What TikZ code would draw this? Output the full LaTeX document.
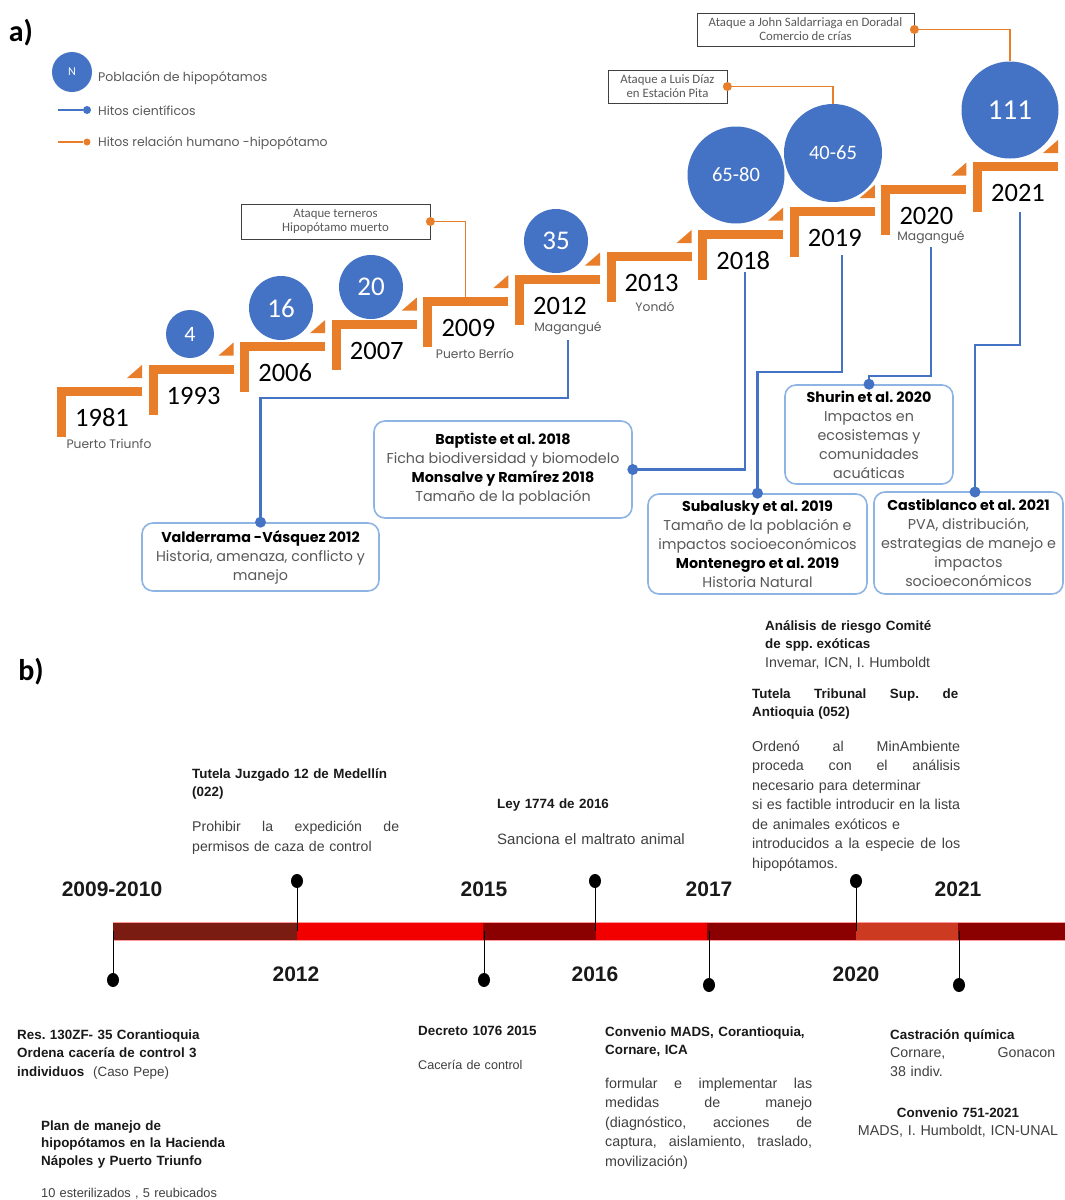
\documentclass[tikz,border=0pt]{standalone}
\usepackage{fontspec}
\setmainfont{Liberation Sans}
\newfontfamily\calfont{Carlito}
\newfontfamily\geofont{Poppins}
\usetikzlibrary{calc,shapes.geometric}

\definecolor{stepor}{HTML}{E87D2A}
\definecolor{popblue}{HTML}{4472C4}
\definecolor{boxblue}{HTML}{8EB4E3}
\definecolor{txtgray}{HTML}{595959}
\definecolor{segA}{HTML}{7B1C12}
\definecolor{segB}{HTML}{F20000}
\definecolor{segC}{HTML}{8B0000}
\definecolor{segD}{HTML}{CC3A22}
\definecolor{bodygray}{HTML}{404040}

% a justified line: the words are spread over the given width
\newcommand{\jl}[2]{\makebox[#1][s]{\spaceskip=0.28em plus 1fil\relax #2}}
\newcommand{\hd}[1]{{\bfseries\color{black}#1}}

\begin{document}
\frenchspacing
\begin{tikzpicture}[x=1pt,y=-1pt,
  yearlbl/.style={font=\calfont\fontsize{26.5}{26.5}\selectfont, text=black, inner sep=0},
  sublbl/.style={font=\geofont\fontsize{12.3}{12.3}\selectfont, text=txtgray, inner sep=0},
  legtxt/.style={font=\geofont\fontsize{12.5}{12.5}\selectfont, text=txtgray, inner sep=0, anchor=west},
  popc/.style={circle, fill=popblue, text=white, inner sep=0},
  callout/.style={draw=black!75, line width=0.8pt, fill=white, inner sep=0, align=center,
    font=\calfont\fontsize{12.8}{14}\selectfont, text=txtgray},
  humline/.style={draw=stepor, line width=1.2pt},
  sciline/.style={draw=popblue, line width=2.5pt},
  scibox/.style={draw=boxblue, line width=1.6pt, rounded corners=11pt, fill=white, inner sep=0,
    align=center, font=\geofont\fontsize{14.3}{19}\selectfont, text=txtgray},
  dotb/.style={circle, fill=popblue, inner sep=0, minimum size=11pt},
  doto/.style={circle, fill=stepor, inner sep=0, minimum size=9pt},
  panel/.style={font=\calfont\bfseries\fontsize{30}{30}\selectfont, inner sep=0},
  byear/.style={font=\bfseries\fontsize{21}{21}\selectfont, text=black!90, inner sep=0},
  blk/.style={anchor=base west, inner sep=0, align=left, text width=#1,
    font=\fontsize{14.3}{19.5}\selectfont, text=bodygray},
  hdblk/.style={anchor=base west, inner sep=0, align=left, text width=#1,
    font=\bfseries\fontsize{13.4}{18.5}\selectfont, text=black!90},
  pinhead/.style={ellipse, fill=black, inner sep=0, minimum width=12pt, minimum height=14pt},
  pinline/.style={draw=black, line width=0.7pt}
]
\useasboundingbox (0,0) rectangle (1065,1200);
\fill[white] (0,0) rectangle (1065,1200);

% ---------------- a) population staircase ----------------
\node[panel] (pa) at (21,33) {a)};

% legend
\node[popc, minimum size=40pt, font=\calfont\fontsize{12}{12}\selectfont] (legN) at (72,72) {N};
\node[legtxt] (legpop) at (98,78) {Población de hipopótamos};
\coordinate (legbs) at (58,110);
\node[dotb, minimum size=8pt] (legbd) at (87,110) {};
\draw[sciline, line width=2pt] (legbs) -- (legbd);
\node[legtxt] (legsci) at (98,111) {Hitos científicos};
\coordinate (legos) at (58,142);
\node[doto, minimum size=7pt] (legod) at (87,142) {};
\draw[humline] (legos) -- (legod);
\node[legtxt] (leghum) at (98,143) {Hitos relación humano -hipopótamo};

% steps
\foreach \i/\yr in {0/1981,1/1993,2/2006,3/2007,4/2009,5/2012,6/2013,7/2018,8/2019,9/2020,10/2021}{
  \pgfmathsetmacro\sx{57+91.6*\i}
  \pgfmathsetmacro\sy{387-22.5*\i}
  \coordinate (st\yr) at (\sx,\sy);
  \fill[stepor] (\sx,\sy) rectangle ++(85,9);
  \fill[stepor] (\sx,\sy) rectangle ++(9,50);
  \fill[stepor] ($(\sx,\sy)+(70,-9)$) -- ++(15,0) -- ++(0,-13) -- cycle;
  \node[yearlbl] (yr\yr) at (\sx+45,\sy+31) {\yr};
}

% place names
\node[sublbl] (locPT) at (109,444) {Puerto Triunfo};
\node[sublbl] (locPB) at (475,354) {Puerto Berrío};
\node[sublbl] (locM1) at (568,328) {Magangué};
\node[sublbl] (locY)  at (655,307) {Yondó};
\node[sublbl] (locM2) at (931,237) {Magangué};

% population circles
\node[popc, minimum size=48pt, font=\calfont\fontsize{22}{22}\selectfont] (p1993) at (190,334) {4};
\node[popc, minimum size=64pt, font=\calfont\fontsize{27}{27}\selectfont] (p2006) at (281,308) {16};
\node[popc, minimum size=64pt, font=\calfont\fontsize{27}{27}\selectfont] (p2007) at (371,287) {20};
\node[popc, minimum size=64pt, font=\calfont\fontsize{27}{27}\selectfont] (p2012) at (556,241) {35};
\node[popc, minimum size=97pt, font=\calfont\fontsize{20.5}{20.5}\selectfont] (p2018) at (736,175) {65-80};
\node[popc, minimum size=98pt, font=\calfont\fontsize{20.5}{20.5}\selectfont] (p2019) at (833,153) {40-65};
\node[popc, minimum size=97pt, font=\calfont\fontsize{29}{29}\selectfont] (p2021) at (1010,110) {111};

% human-hippo events
\node[callout, minimum width=189pt, minimum height=35pt] (tern) at (335.5,221.5) {Ataque terneros\\Hipopótamo muerto};
\draw[humline] (tern.east) -| ($(st2009)+(42,0)$);
\node[doto] (ternd) at (tern.east) {};

\node[callout, minimum width=119pt, minimum height=33pt] (luis) at (667.5,86.5) {Ataque a Luis Díaz\\en Estación Pita};
\draw[humline] (luis.east) -| (p2019.north);
\node[doto] (luisd) at (luis.east) {};

\node[callout, minimum width=217pt, minimum height=33pt] (sald) at (805.5,29.5) {Ataque a John Saldarriaga en Doradal\\Comercio de crías};
\draw[humline] (sald.east) -| (p2021.north);
\node[doto] (saldd) at (sald.east) {};

% scientific milestones
\node[scibox, minimum width=237pt, minimum height=68pt] (val) at (260.5,557)
  {\hd{Valderrama -Vásquez 2012}\\Historia, amenaza, conflicto y\\manejo};
\node[scibox, minimum width=258pt, minimum height=97pt] (bap) at (503,469.5)
  {\hd{Baptiste et al. 2018}\\Ficha biodiversidad y biomodelo\\\hd{Monsalve y Ramírez 2018}\\Tamaño de la población};
\node[scibox, minimum width=219pt, minimum height=100pt] (sub) at (757.5,544)
  {\hd{Subalusky et al. 2019}\\Tamaño de la población e\\impactos socioeconómicos\\\hd{Montenegro et al. 2019}\\Historia Natural};
\node[scibox, minimum width=168pt, minimum height=99pt] (shu) at (869,434.5)
  {\hd{Shurin et al. 2020}\\Impactos en\\ecosistemas y\\comunidades\\acuáticas};
\node[scibox, minimum width=189pt, minimum height=102pt] (cas) at (968.5,543)
  {\hd{Castiblanco et al. 2021}\\PVA, distribución,\\estrategias de manejo e\\impactos\\socioeconómicos};

\coordinate (s2012) at (568,340);
\coordinate (s2018) at (745,272);
\coordinate (s2019) at (842,255);
\coordinate (s2020) at (931,247);
\coordinate (s2021) at (1020,212);
\coordinate (casin) at (975,492);

\draw[sciline] (s2012) -- ++(0,58) -| (val.north);
\draw[sciline] (s2018) |- (bap.east);
\draw[sciline] (s2019) -- ++(0,117) -| (sub.north);
\draw[sciline] (s2020) -- ++(0,129) -| (shu.north);
\draw[sciline] (s2021) -- ++(0,133) -| (casin);
\node[dotb] (dval) at (val.north) {};
\node[dotb] (dbap) at (bap.east) {};
\node[dotb] (dsub) at (sub.north) {};
\node[dotb] (dshu) at (shu.north) {};
\node[dotb] (dcas) at (casin) {};

% ---------------- b) legal timeline ----------------
\node[panel] (pb) at (31,672) {b)};

\fill[segA] (113,922) rectangle (297,940);
\fill[segB] (297,922) rectangle (483,940);
\fill[segC] (483,922) rectangle (596,940);
\fill[segB] (596,922) rectangle (707,940);
\fill[segC] (707,922) rectangle (856,940);
\fill[segD] (856,922) rectangle (958,940);
\fill[segC] (958,922) rectangle (1065,940);
\draw[red!40, line width=0.6pt] (113,922) -- (1065,922) (113,940) -- (1065,940);

\foreach \n/\x/\hy in {up2012/297/881, up2016/595/881, up2020/856/881,
                       dn2009/113/980, dn2015/484/980, dn2017/709/985, dn2021/959/985}{
  \coordinate (\n b) at (\x,931);
  \node[pinhead] (\n) at (\x,\hy) {};
  \draw[pinline] (\n) -- (\n b);
}

\node[byear] (b0910) at (112,889) {2009-2010};
\node[byear] (b2015) at (484,889) {2015};
\node[byear] (b2017) at (709,889) {2017};
\node[byear] (b2021) at (958,889) {2021};
\node[byear] (b2012) at (296,974) {2012};
\node[byear] (b2016) at (595,974) {2016};
\node[byear] (b2020) at (856,974) {2020};

% notes above the line
\node[hdblk=230pt] (tjm) at (192,778) {Tutela Juzgado 12 de Medellín\\(022)};
\node[blk=230pt, font=\fontsize{14.1}{20}\selectfont] (tjmb) at (192,831)
  {\jl{207pt}{Prohibir la expedición de}\\permisos de caza de control};
\node[hdblk=230pt] (ley) at (497,808) {Ley 1774 de 2016};
\node[blk=230pt, font=\fontsize{15}{20}\selectfont] (leyb) at (497,844) {Sanciona el maltrato animal};
\node[hdblk=230pt] (ana) at (765,630)
  {Análisis de riesgo Comité\\de spp.\kern0.28em exóticas\\{\mdseries\fontsize{14.2}{18.5}\selectfont\color{bodygray}Invemar, ICN, I. Humboldt}};
\node[hdblk=230pt] (tts) at (752,698)
  {\jl{206pt}{Tutela Tribunal Sup. de}\\Antioquia (052)};
\node[blk=230pt] (ttsb) at (752,751)
  {\jl{208pt}{Ordenó al MinAmbiente}\\\jl{208pt}{proceda con el análisis}\\necesario para determinar\\
   \jl{208pt}{si es factible introducir en la lista}\\de animales exóticos e\\
   \jl{208pt}{introducidos a la especie de los}\\hipopótamos.};

% notes below the line
\node[hdblk=230pt] (res) at (17,1039)
  {Res. 130ZF- 35 Corantioquia\\Ordena cacería de control 3\\individuos{\mdseries\color{bodygray}\ \ (Caso Pepe)}};
\node[hdblk=230pt, font=\bfseries\fontsize{13.4}{17.5}\selectfont] (plan) at (41,1130)
  {Plan de manejo de\\hipopótamos en la Hacienda\\Nápoles y Puerto Triunfo};
\node[blk=230pt, font=\fontsize{12.8}{12.8}\selectfont] (planb) at (41,1197) {10 esterilizados , 5 reubicados};
\node[hdblk=200pt] (dec) at (418,1035) {Decreto 1076 2015};
\node[blk=200pt, font=\fontsize{12.6}{12.6}\selectfont] (decb) at (418,1069) {Cacería de control};
\node[hdblk=230pt] (conv) at (605,1036) {Convenio MADS, Corantioquia,\\Cornare, ICA};
\node[blk=230pt] (convb) at (605,1088)
  {\jl{207pt}{formular e implementar las}\\\jl{207pt}{medidas de manejo}\\
   \jl{207pt}{(diagnóstico, acciones de}\\\jl{207pt}{captura, aislamiento, traslado,}\\movilización)};
\node[hdblk=180pt] (cast) at (890,1039) {Castración química};
\node[blk=180pt, font=\fontsize{14.2}{19}\selectfont] (castb) at (890,1057)
  {\jl{165pt}{Cornare, Gonacon}\\38 indiv.};
\node[hdblk=220pt, align=center, anchor=base] (c751) at (958,1117) {Convenio 751-2021};
\node[blk=220pt, align=center, anchor=base] (c751b) at (958,1135) {MADS, I. Humboldt, ICN-UNAL};
\end{tikzpicture}
\end{document}
